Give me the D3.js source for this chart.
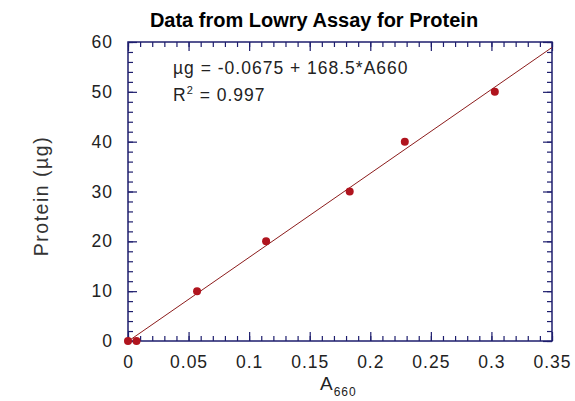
<!DOCTYPE html>
<html>
<head>
<meta charset="utf-8">
<script src="https://cdn.jsdelivr.net/npm/d3@7"></script>
<style>
  body { margin: 0; background: #fff; }
  svg text { font-family: "Liberation Sans", Arial, sans-serif; fill: #222; letter-spacing: 1px; }
</style>
</head>
<body>
<svg id="paper"></svg>
<script>
// data
let absorbance = [0, 0.007, 0.057, 0.114, 0.183, 0.2285, 0.3028];
let protein = [0, 0, 10, 20, 30, 40, 50];
let fitIntercept = -0.0675, fitSlope = 168.5;
let xTicks = [0, 0.05, 0.1, 0.15, 0.2, 0.25, 0.3, 0.35];
let yTicks = [0, 10, 20, 30, 40, 50, 60];
let xMinor = d3.range(0, 36).map(i => i / 100);
let yMinor = d3.range(0, 31).map(i => i * 2);

let width = 575, height = 401;
let plot = {left: 128, right: 552, top: 42, bottom: 341};
let axisColor = "#1e1e6e", dotColor = "#b0141e", lineColor = "#8c1c1c";

let svg = d3.select("#paper").attr("width", width).attr("height", height);

let x = d3.scaleLinear().domain([0, 0.35]).range([plot.left, plot.right]);
let y = d3.scaleLinear().domain([0, 60]).range([plot.bottom, plot.top]);

// title
svg.append("text")
    .attr("x", 314).attr("y", 27)
    .attr("text-anchor", "middle")
    .style("font-weight", "bold")
    .style("font-size", "20px")
    .style("letter-spacing", "0px")
    .style("fill", "#000")
    .text("Data from Lowry Assay for Protein");

// frame
svg.append("rect")
    .attr("x", plot.left).attr("y", plot.top)
    .attr("width", plot.right - plot.left).attr("height", plot.bottom - plot.top)
    .attr("fill", "none").attr("stroke", axisColor).attr("stroke-width", 1.5);

// tick marks on all four sides, pointing inward
function ticks(axisFn, scale, values, size, transform) {
    let g = svg.append("g").attr("transform", transform)
        .call(axisFn(scale).tickValues(values).tickSize(size).tickFormat(""));
    g.select(".domain").remove();
    g.selectAll("line").attr("stroke", axisColor).attr("stroke-width", 1.2);
}
ticks(d3.axisBottom, x, xMinor, -5, "translate(0," + plot.bottom + ")");
ticks(d3.axisBottom, x, xTicks, -9, "translate(0," + plot.bottom + ")");
ticks(d3.axisTop, x, xMinor, -5, "translate(0," + plot.top + ")");
ticks(d3.axisTop, x, xTicks, -9, "translate(0," + plot.top + ")");
ticks(d3.axisLeft, y, yMinor, -5, "translate(" + plot.left + ",0)");
ticks(d3.axisLeft, y, yTicks, -9, "translate(" + plot.left + ",0)");
ticks(d3.axisRight, y, yMinor, -5, "translate(" + plot.right + ",0)");
ticks(d3.axisRight, y, yTicks, -9, "translate(" + plot.right + ",0)");

// tick labels
let xAxis = svg.append("g")
    .attr("transform", "translate(0," + plot.bottom + ")")
    .call(d3.axisBottom(x).tickValues(xTicks).tickSize(0).tickPadding(15).tickFormat(d3.format("")));
let yAxis = svg.append("g")
    .attr("transform", "translate(" + plot.left + ",0)")
    .call(d3.axisLeft(y).tickValues(yTicks).tickSize(0).tickPadding(15));
[xAxis, yAxis].forEach(function (g) {
    g.select(".domain").remove();
    g.selectAll("text").style("font-size", "17.5px").style("font-family", null).style("fill", "#222");
});

// fit line
let fit = x.domain().map(a => [a, fitIntercept + fitSlope * a]);
svg.append("path")
    .datum(fit)
    .attr("d", d3.line().x(d => x(d[0])).y(d => y(d[1])))
    .attr("fill", "none").attr("stroke", lineColor).attr("stroke-width", 1);

// data points
svg.selectAll("circle.pt")
    .data(absorbance)
    .enter()
    .append("circle")
    .attr("class", "pt")
    .attr("cx", d => x(d))
    .attr("cy", (d, i) => y(protein[i]))
    .attr("r", 4)
    .attr("fill", dotColor);

// equation
svg.append("text")
    .attr("x", 173).attr("y", 74)
    .style("font-size", "17.5px")
    .text("µg = -0.0675 + 168.5*A660");
let r2 = svg.append("text")
    .attr("x", 173).attr("y", 101)
    .style("font-size", "17.5px");
r2.append("tspan").text("R");
r2.append("tspan").attr("dy", -7).style("font-size", "11px").text("2");
r2.append("tspan").attr("dy", 7).text(" = 0.997");

// axis titles
let xl = svg.append("text")
    .attr("x", 320).attr("y", 390);
xl.append("tspan").style("font-size", "19px").text("A");
xl.append("tspan").attr("dy", 6).style("font-size", "12px").text("660");

svg.append("text")
    .attr("transform", "translate(48,196) rotate(-90)")
    .attr("text-anchor", "middle")
    .style("font-size", "19.5px")
    .style("letter-spacing", "1.5px")
    .style("fill", "#333")
    .text("Protein (µg)");
</script>
</body>
</html>
